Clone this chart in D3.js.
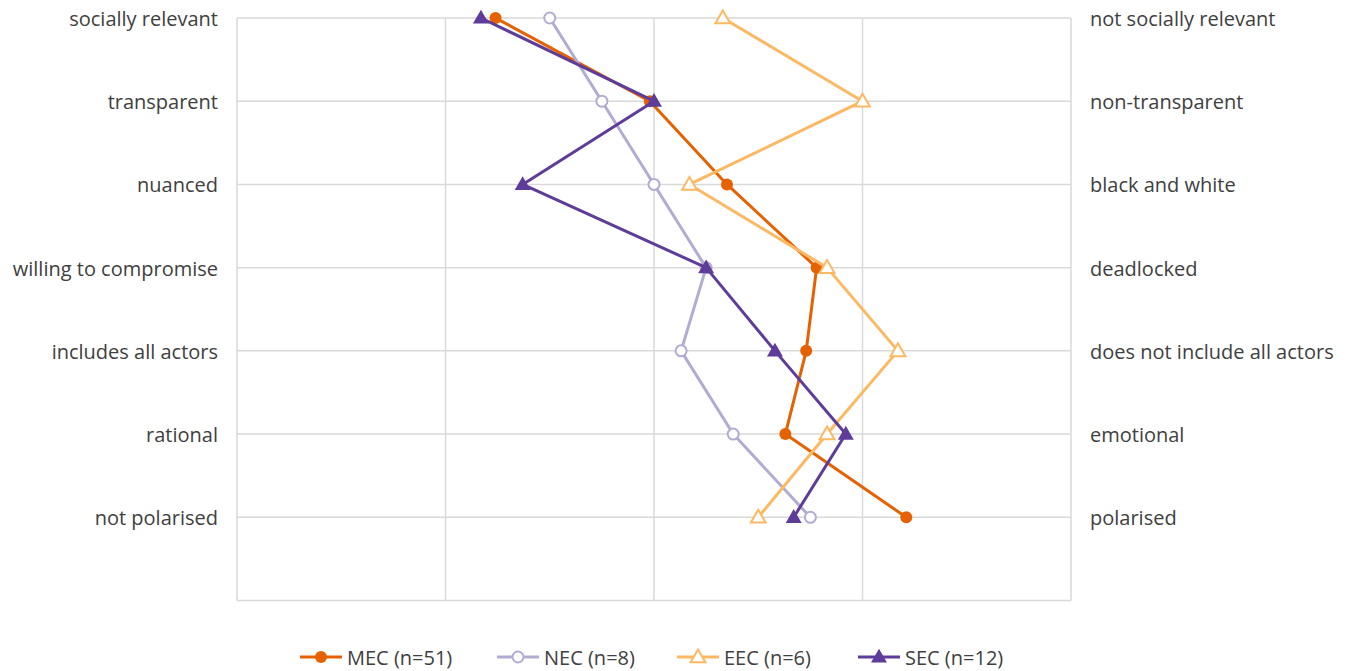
<!DOCTYPE html>
<html>
<head>
<meta charset="utf-8">
<script src="https://cdn.jsdelivr.net/npm/d3@7"></script>
<style>
  html, body { margin: 0; padding: 0; background: #fff; }
  svg { display: block; }
  text { font-family: "Open Sans", "Noto Sans", sans-serif; fill: #404040; }
</style>
</head>
<body>
<svg id="chart" width="1349" height="671"></svg>
<script>
// Semantic differential items: left pole / right pole
const leftPoles = ["socially relevant", "transparent", "nuanced", "willing to compromise",
                   "includes all actors", "rational", "not polarised"];
const rightPoles = ["not socially relevant", "non-transparent", "black and white", "deadlocked",
                    "does not include all actors", "emotional", "polarised"];

// Mean ratings (scale 1–5) per group
const mec = [2.24, 2.98, 3.35, 3.78, 3.73, 3.63, 4.21];
const nec = [2.50, 2.75, 3.00, 3.25, 3.13, 3.38, 3.75];
const eec = [3.33, 4.00, 3.17, 3.83, 4.17, 3.83, 3.50];
const sec = [2.17, 3.00, 2.37, 3.25, 3.58, 3.92, 3.67];

const seriesNames = ["MEC (n=51)", "NEC (n=8)", "EEC (n=6)", "SEC (n=12)"];
const xTicks = [1, 2, 3, 4, 5];

const series = [
  { name: seriesNames[0], values: mec, color: "#e66101", marker: "circle", filled: true },
  { name: seriesNames[1], values: nec, color: "#b2abd2", marker: "circle", filled: false },
  { name: seriesNames[2], values: eec, color: "#fdb863", marker: "triangle", filled: false },
  { name: seriesNames[3], values: sec, color: "#5e3c99", marker: "triangle", filled: true }
];

const svg = d3.select("#chart");
const plot = { left: 237, right: 1071, top: 18, bottom: 600.5 };

const x = d3.scaleLinear().domain([1, 5]).range([plot.left, plot.right]);
// one slot per item plus an empty band at the bottom
const y = d3.scaleLinear().domain([0, leftPoles.length]).range([plot.top, plot.bottom]);

const grid = svg.append("g");
// vertical gridlines
grid.selectAll("line.v").data(xTicks).join("line")
  .attr("x1", d => x(d)).attr("x2", d => x(d))
  .attr("y1", plot.top).attr("y2", plot.bottom)
  .attr("stroke", "#d9d9d9").attr("stroke-width", 1.5);
// horizontal gridlines
grid.selectAll("line.h").data(d3.range(leftPoles.length + 1)).join("line")
  .attr("x1", plot.left).attr("x2", plot.right)
  .attr("y1", d => y(d)).attr("y2", d => y(d))
  .attr("stroke", "#d9d9d9").attr("stroke-width", 1.5);

// pole labels
svg.append("g").selectAll("text").data(leftPoles).join("text")
  .attr("x", 218).attr("y", (d, i) => y(i) + 1)
  .attr("dy", "0.35em").attr("text-anchor", "end")
  .style("font-size", "20px").text(d => d);
svg.append("g").selectAll("text").data(rightPoles).join("text")
  .attr("x", 1090).attr("y", (d, i) => y(i) + 1)
  .attr("dy", "0.35em").attr("text-anchor", "start")
  .style("font-size", "20px").text(d => d);

const triangle = d3.symbol().type(d3.symbolTriangle);

function drawMarker(g, s, cx, cy) {
  if (s.marker === "circle") {
    g.append("circle").attr("cx", cx).attr("cy", cy).attr("r", s.filled ? 6 : 5.5)
      .attr("fill", s.filled ? s.color : "#fff")
      .attr("stroke", s.color).attr("stroke-width", s.filled ? 0 : 2);
  } else {
    g.append("path").attr("d", triangle.size(s.filled ? 110 : 95)())
      .attr("transform", `translate(${cx},${cy + 1})`)
      .attr("fill", s.filled ? s.color : "#fff")
      .attr("stroke", s.color).attr("stroke-width", s.filled ? 0 : 2);
  }
}

const line = d3.line().x(d => x(d[0])).y(d => y(d[1]));

series.forEach(s => {
  const g = svg.append("g");
  const pts = s.values.map((v, i) => [v, i]);
  g.append("path").attr("d", line(pts))
    .attr("fill", "none").attr("stroke", s.color).attr("stroke-width", 3)
    .attr("stroke-linejoin", "round");
  pts.forEach(p => drawMarker(g, s, x(p[0]), y(p[1])));
});

// legend
const legendX = [300, 497, 677, 858];
const legendY = 657;
series.forEach((s, i) => {
  const g = svg.append("g");
  const x0 = legendX[i];
  g.append("line").attr("x1", x0).attr("x2", x0 + 42)
    .attr("y1", legendY).attr("y2", legendY)
    .attr("stroke", s.color).attr("stroke-width", 3);
  drawMarker(g, s, x0 + 21, legendY);
  g.append("text").attr("x", x0 + 47).attr("y", legendY + 1).attr("dy", "0.35em")
    .style("font-size", "20px").text(s.name);
});
</script>
</body>
</html>
